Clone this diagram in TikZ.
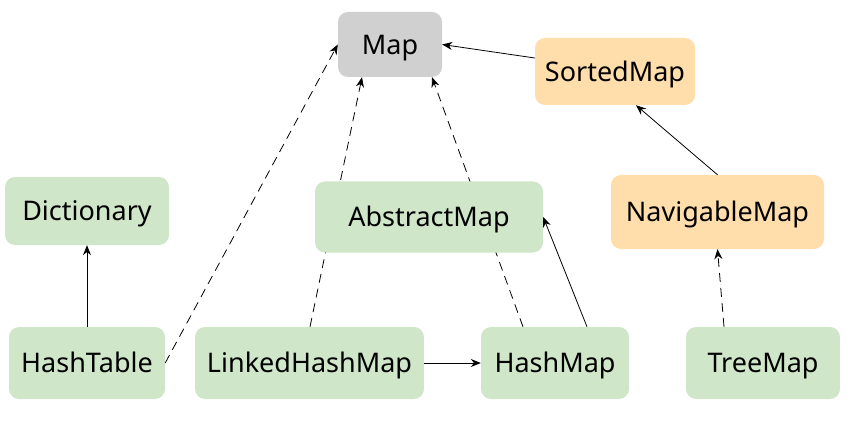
\documentclass[tikz,border=0pt]{standalone}
\usepackage{fontspec}
\setmainfont{Noto Sans}
\usetikzlibrary{arrows.meta}
\pgfdeclarelayer{edges}
\pgfsetlayers{edges,main}
\definecolor{boxgreen}{RGB}{207,230,201}
\definecolor{boxgray}{RGB}{208,208,208}
\definecolor{boxorange}{RGB}{255,222,171}
\tikzset{
  cls/.style={rounded corners=10pt, inner sep=0pt, text height=19.3pt, text depth=0pt, font=\fontsize{27}{31}\selectfont},
  gbox/.style={cls, fill=boxgreen},
  obox/.style={cls, fill=boxorange},
  graybox/.style={cls, fill=boxgray},
  solidarrow/.style={draw=black, line width=0.8pt, -{Stealth[length=10pt,width=8pt]}},
  dasharrow/.style={solidarrow, dash pattern=on 9pt off 6pt},
}
\begin{document}
\begin{tikzpicture}[x=1pt,y=1pt]
\useasboundingbox (0,0) rectangle (850,426);
\node[graybox, minimum width=104pt, minimum height=65pt] (map) at (390,381.5) {Map};
\node[obox, minimum width=160pt, minimum height=67pt] (sm) at (615,354.5) {SortedMap};
\node[gbox, minimum width=164pt, minimum height=68pt] (dict) at (87,215) {Dictionary};
\node[gbox, minimum width=228pt, minimum height=71pt] (am) at (429,209) {AbstractMap};
\node[obox, minimum width=213pt, minimum height=74pt] (nm) at (717.5,214) {NavigableMap};
\node[gbox, minimum width=156pt, minimum height=72pt] (ht) at (87,63) {HashTable};
\node[gbox, minimum width=229pt, minimum height=72pt] (lhm) at (309.5,63) {LinkedHashMap};
\node[gbox, minimum width=148pt, minimum height=72pt] (hm) at (555,63) {HashMap};
\node[gbox, minimum width=154pt, minimum height=72pt] (tm) at (763,63) {TreeMap};
\begin{pgfonlayer}{edges}
\draw[dasharrow] ([xshift=0.5pt]lhm.north) -- ([xshift=-28pt]map.south);
\draw[dasharrow] ([xshift=-32pt]hm.north) -- ([xshift=42pt]map.south);
\end{pgfonlayer}
\draw[dasharrow] (ht.east) -- (map.west);
\draw[dasharrow] ([xshift=-39pt]tm.north) -- (nm.south);
\draw[solidarrow] ([xshift=32pt]hm.north) -- (am.east);
\draw[solidarrow] ([yshift=13.5pt]sm.west) -- (map.east);
\draw[solidarrow] (nm.north) -- ([xshift=21pt]sm.south);
\draw[solidarrow] (lhm.east) -- (hm.west);
\draw[solidarrow] (ht.north) -- (dict.south);
\end{tikzpicture}
\end{document}
